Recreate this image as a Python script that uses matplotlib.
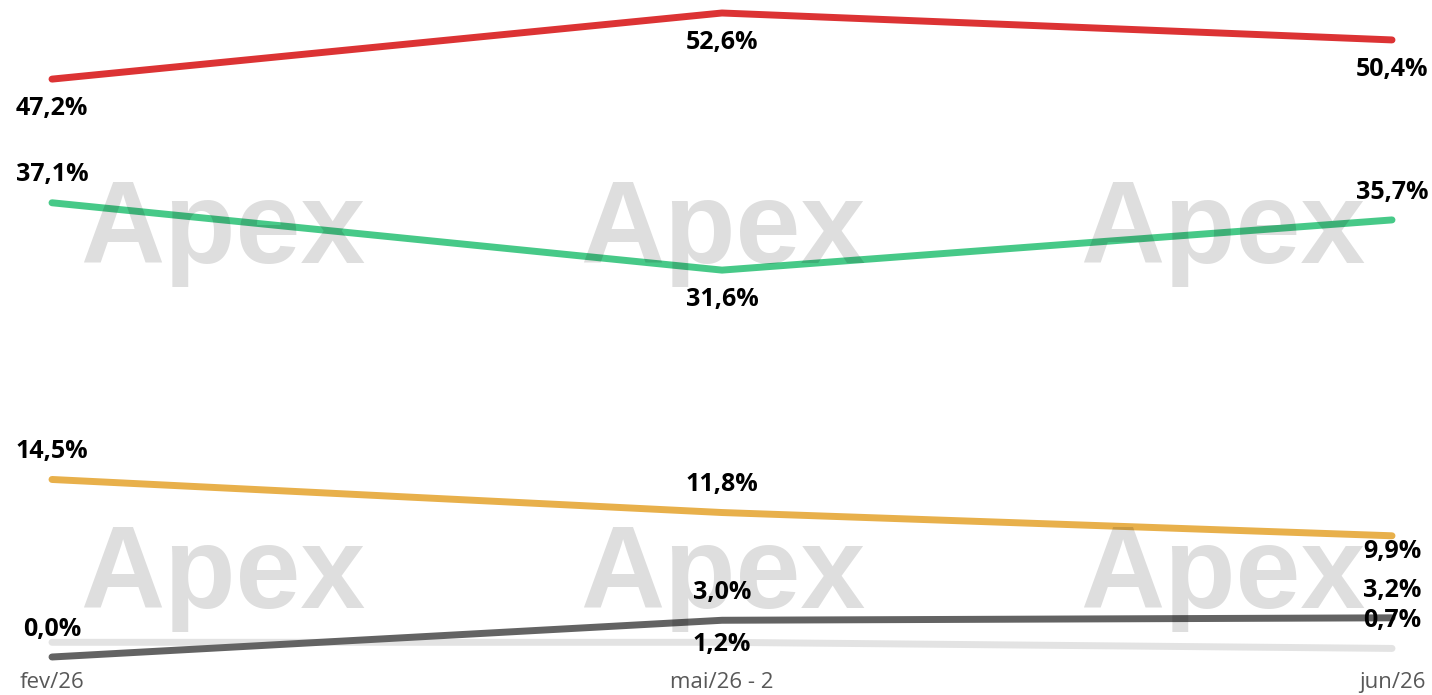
import matplotlib
matplotlib.use("Agg")
import matplotlib.pyplot as plt

categories = ["fev/26", "mai/26 - 2", "jun/26"]
red_vals = [47.2, 52.6, 50.4]
green_vals = [37.1, 31.6, 35.7]
yellow_vals = [14.5, 11.8, 9.9]
dark_vals = [0.0, 3.0, 3.2]
light_vals = [1.2, 1.2, 0.7]

series = [
    (light_vals, "#E3E3E3", [None, "on", "above"]),
    (dark_vals, "#636363", ["above", "above", "above"]),
    (yellow_vals, "#E8B04B", ["above", "above", "below_small"]),
    (green_vals, "#47C988", ["above", "below", "above"]),
    (red_vals, "#DC3334", ["below", "below", "below"]),
]

W, H = 1432, 695
fig = plt.figure(figsize=(W / 100, H / 100), dpi=100)
ax_bottom_px = 665
ax = fig.add_axes([52 / W, (H - ax_bottom_px) / H, 1340 / W, ax_bottom_px / H])
scale = (657 - 13) / 52.6
ax.set_xlim(0, 2)
ax.set_ylim(-(ax_bottom_px - 657) / scale, 52.6 + 13 / scale)
for s in ax.spines.values():
    s.set_visible(False)
ax.set_yticks([])
ax.set_xticks(range(len(categories)))
ax.set_xticklabels(categories, fontsize=16, color="#585858", family="Open Sans")
ax.tick_params(axis="x", length=0, pad=5)

x = list(range(len(categories)))
offsets = {"above": 20, "below": -21, "below_small": -11, "on": -1.5}
for vals, color, pos in series:
    ax.plot(x, vals, color=color, lw=5, solid_capstyle="round",
            solid_joinstyle="round", clip_on=False, zorder=2)
for vals, color, pos in series:
    for xi, v, p in zip(x, vals, pos):
        if p is None:
            continue
        ax.annotate(f"{v:.1f}%".replace(".", ","), (xi, v),
                    xytext=(0, offsets[p]), textcoords="offset points",
                    ha="center", va="center", fontsize=18,
                    fontweight="bold", family="Open Sans", color="#000000",
                    annotation_clip=False, zorder=4)

# watermark
for yb in [263, 608]:
    for xc in [223, 723, 1223]:
        fig.text(xc / W, 1 - yb / H, "Apex", ha="center", va="baseline",
                 fontsize=84, fontweight="bold", family="Liberation Sans",
                 color="#000000", alpha=0.13, zorder=10)

fig.savefig("out.png", dpi=100)
